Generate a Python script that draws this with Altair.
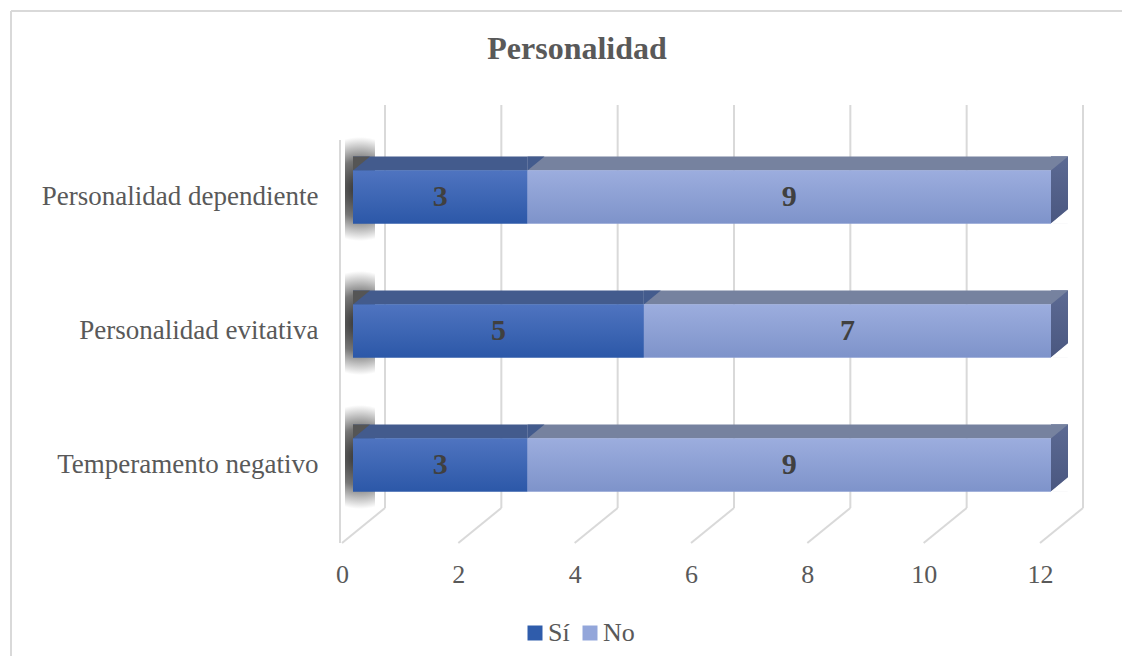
import altair as alt
import pandas as pd

categories = ["Personalidad dependiente", "Personalidad evitativa", "Temperamento negativo"]
series = ["Sí", "No"]
si_values = [3, 5, 3]
no_values = [9, 7, 9]
tick_values = [0, 2, 4, 6, 8, 10, 12]
title_text = "Personalidad"

rows = []
for c, s, n in zip(categories, si_values, no_values):
    rows.append(dict(cat=c, serie="Sí", value=s, start=0, end=s))
    rows.append(dict(cat=c, serie="No", value=n, start=s, end=s + n))
df = pd.DataFrame(rows)
ticks_df = pd.DataFrame({"v": tick_values})

FONT = "Liberation Serif"
GRID = "#d9d9d9"
TXT = "#595959"
SI_TOP = "#435b8d"
NO_TOP = "#76829f"
TRI_UL = "M -1 -0.8235 L 1 -0.8235 L -1 0.8235 Z"
TRI_LR = "M 1 -0.8235 L 1 0.8235 L -1 0.8235 Z"


def grad(top, bottom):
    return alt.Gradient(
        gradient="linear",
        stops=[alt.GradientStop(color=top, offset=0), alt.GradientStop(color=bottom, offset=1)],
        x1=0, y1=0, x2=0, y2=1,
    )


x_scale = alt.Scale(domain=[0, 12], nice=False, zero=True)
y_scale = alt.Scale(domain=categories, paddingInner=0, paddingOuter=0)
X_AX = alt.Axis(values=tick_values, grid=False, domain=False, ticks=False, tickSize=0,
                labelFlush=False, labelFont=FONT, labelFontSize=26, labelColor=TXT,
                labelPadding=29)
Y_AX = alt.Axis(domain=False, ticks=False, tickSize=0, grid=False, labelFont=FONT, labelFontSize=27,
                labelColor=TXT, labelPadding=24, labelLimit=400)


def X(field):
    return alt.X(field, scale=x_scale, axis=X_AX, title=None)


Y = alt.Y("cat:N", scale=y_scale, axis=Y_AX, title=None)

base = alt.Chart(df)
si = base.transform_filter(alt.datum.serie == "Sí")
no = base.transform_filter(alt.datum.serie == "No")

frame = alt.Chart(alt.Data(values=[{}]))
border_top = frame.mark_rule(color=GRID, strokeWidth=2).encode(
    x=alt.value(-331), x2=alt.value(790), y=alt.value(-119))
border_left = frame.mark_rule(color=GRID, strokeWidth=2).encode(
    x=alt.value(-331), y=alt.value(-119), y2=alt.value(540))
left_wall = frame.mark_rule(color=GRID, strokeWidth=2).encode(
    x=alt.value(-2), y=alt.value(10), y2=alt.value(413))
title = frame.mark_text(font=FONT, fontSize=32, fontWeight="bold", color=TXT,
                        align="center", baseline="alphabetic").encode(
    x=alt.value(235), y=alt.value(-71), text=alt.value(title_text))

tk = alt.Chart(ticks_df)
back_grid = tk.mark_rule(color=GRID, strokeWidth=2, xOffset=43).encode(
    x=X("v:Q"), y=alt.value(-25), y2=alt.value(378))
floor_grid = tk.mark_rule(color=GRID, strokeWidth=2, x2Offset=43).encode(
    x=X("v:Q"), x2="v:Q", y=alt.value(413), y2=alt.value(378))

shadow_fill = alt.Gradient(
    gradient="radial", x1=0.5, y1=0.5, r1=0, x2=0.5, y2=0.5, r2=0.5,
    stops=[alt.GradientStop(color="#2e2e2e", offset=0),
           alt.GradientStop(color="#777777", offset=0.55),
           alt.GradientStop(color="#ffffff", offset=1)])
shadow = si.mark_bar(size=104, xOffset=3, x2Offset=33, yOffset=-8, fill=shadow_fill).encode(
    x=X("start:Q"), x2="start:Q", y=Y)

no_top = no.mark_bar(size=14, xOffset=11, x2Offset=28, yOffset=-33.5, color=NO_TOP).encode(
    x=X("start:Q"), x2="end:Q", y=Y)
si_top = si.mark_bar(size=14, xOffset=11, x2Offset=11, yOffset=-33.5, color=SI_TOP).encode(
    x=X("start:Q"), x2="end:Q", y=Y)
si_tri = si.mark_point(shape=TRI_UL, size=289, filled=True, fill=SI_TOP, opacity=1,
                       strokeWidth=0, xOffset=19.5, yOffset=-33.5).encode(
    x=X("end:Q"), y=Y)
left_tri = si.mark_point(shape=TRI_UL, size=289, filled=True, fill="#555555", opacity=1,
                         strokeWidth=0, xOffset=19.5, yOffset=-33.5).encode(
    x=X("start:Q"), y=Y)

side = no.mark_bar(size=67, xOffset=11, x2Offset=28, yOffset=-7,
                   fill=grad("#5c6a93", "#4a5780")).encode(
    x=X("end:Q"), x2="end:Q", y=Y)
side_tri = no.mark_point(shape=TRI_UL, size=289, filled=True, fill=NO_TOP, opacity=1,
                         strokeWidth=0, xOffset=19.5, yOffset=-33.5).encode(
    x=X("end:Q"), y=Y)
side_cut = no.mark_point(shape=TRI_LR, size=289, filled=True, fill="#ffffff", opacity=1,
                         stroke="#ffffff", strokeWidth=1.2, xOffset=19.8, yOffset=19.8).encode(
    x=X("end:Q"), y=Y)

front = base.mark_bar(size=53, xOffset=11, x2Offset=11).encode(
    x=X("start:Q"),
    x2="end:Q",
    y=Y,
    color=alt.Color("serie:N", scale=alt.Scale(domain=series, range=["#2f5cab", "#93a6da"]),
                    title=None,
                    legend=alt.Legend(orient="none", legendX=180, legendY=490, direction="horizontal",
                                      symbolType="square", symbolSize=225, symbolStrokeWidth=0,
                                      labelFont=FONT, labelFontSize=26, labelColor=TXT,
                                      columnPadding=7, labelOffset=0, padding=0)),
)
si_front = si.mark_bar(size=53, xOffset=11, x2Offset=11, fill=grad("#4f74c0", "#2c58a8")).encode(
    x=X("start:Q"), x2="end:Q", y=Y)
no_front = no.mark_bar(size=53, xOffset=11, x2Offset=11, fill=grad("#9cadde", "#7e93ca")).encode(
    x=X("start:Q"), x2="end:Q", y=Y)

labels = base.transform_calculate(mid="(datum.start + datum.end) / 2").mark_text(
    font=FONT, fontSize=30, fontWeight="bold", color="#404040", xOffset=11, baseline="middle"
).encode(x=X("mid:Q"), y=Y, text="value:Q")

chart = alt.layer(
    border_top, border_left, left_wall, title, back_grid, floor_grid, shadow,
    no_top, si_top, si_tri, left_tri, side, side_tri, side_cut,
    front, si_front, no_front, labels,
).properties(
    width=698, height=402,
    padding={"left": 334, "top": 122, "right": 82, "bottom": 124},
    autosize="none",
).configure(background="white", view=alt.ViewConfig(strokeWidth=0, stroke="transparent"))

chart.save("out.html", embed_options={"renderer": "svg", "actions": False})
